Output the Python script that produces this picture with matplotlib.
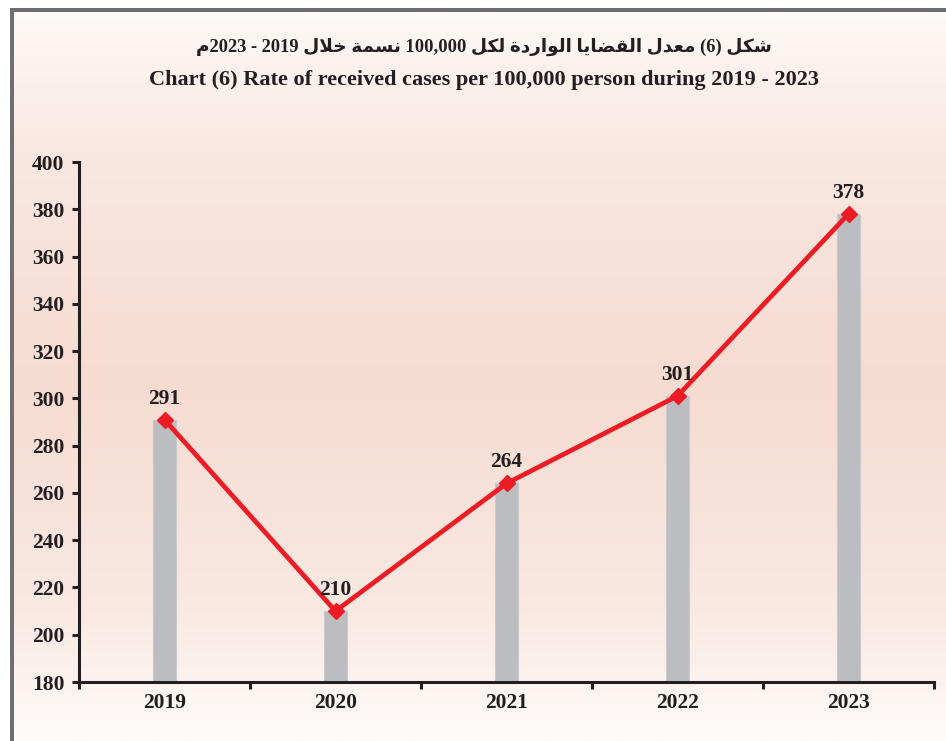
import re
import numpy as np
import matplotlib
matplotlib.use("Agg")
import matplotlib.pyplot as plt
from matplotlib.patches import Rectangle
from matplotlib.ticker import FixedLocator

# ---------------- data ----------------
years = ["2019", "2020", "2021", "2022", "2023"]
rates = [291, 210, 264, 301, 378]
y_ticks = [180, 200, 220, 240, 260, 280, 300, 320, 340, 360, 380, 400]
title_ar = "شكل (6) معدل القضايا الواردة لكل 100,000 نسمة خلال 2019 - 2023م"
title_en = "Chart (6) Rate of received cases per 100,000 person during 2019 - 2023"

# ---------------- simple Arabic shaping (presentation forms + RTL order) ----------------
FORMS = {
    '\u0627': (0xFE8D, 'R'), '\u062F': (0xFEA9, 'R'), '\u0631': (0xFEAD, 'R'),
    '\u0648': (0xFEED, 'R'), '\u0629': (0xFE93, 'R'),
    '\u0634': (0xFEB5, 'D'), '\u0643': (0xFED9, 'D'), '\u0644': (0xFEDD, 'D'),
    '\u0645': (0xFEE1, 'D'), '\u0639': (0xFEC9, 'D'), '\u0642': (0xFED5, 'D'),
    '\u0636': (0xFEBD, 'D'), '\u064A': (0xFEF1, 'D'), '\u0646': (0xFEE5, 'D'),
    '\u0633': (0xFEB1, 'D'), '\u062E': (0xFEA5, 'D'),
}


def shape_arabic(s):
    toks = []
    i = 0
    while i < len(s):
        if s[i] == '\u0644' and i + 1 < len(s) and s[i + 1] == '\u0627':
            toks.append('LA')
            i += 2
        else:
            toks.append(s[i])
            i += 1

    def is_ar(t):
        return t == 'LA' or t in FORMS

    def joins_next(t):
        return t in FORMS and FORMS[t][1] == 'D'

    out = []
    for k, t in enumerate(toks):
        prev = toks[k - 1] if k > 0 else None
        nxt = toks[k + 1] if k + 1 < len(toks) else None
        jp = prev is not None and joins_next(prev)
        jn = joins_next(t) and nxt is not None and is_ar(nxt)
        if t == 'LA':
            out.append(chr(0xFEFC if jp else 0xFEFB))
        elif t in FORMS:
            base, typ = FORMS[t]
            if typ == 'D':
                if jp and jn:
                    out.append(chr(base + 3))
                elif jp:
                    out.append(chr(base + 1))
                elif jn:
                    out.append(chr(base + 2))
                else:
                    out.append(chr(base))
            else:
                out.append(chr(base + 1 if jp else base))
        else:
            out.append(t)
    shaped = ''.join(out)
    runs = re.findall(r'[0-9][0-9,]*[0-9]|[0-9]|.', shaped)
    mirror = {'(': ')', ')': '('}
    return ''.join(mirror.get(r, r) for r in reversed(runs))


# ---------------- figure ----------------
W, H, DPI = 946, 741, 100
fig = plt.figure(figsize=(W / DPI, H / DPI), dpi=DPI)
fig.patch.set_facecolor('white')

# gradient background inside frame
bg = fig.add_axes([14 / W, 0, 1 - 14 / W, (H - 12) / H], zorder=0)
stops_y = np.array([0, 140, 370, 600, 729])  # px from top of gradient area
stops_c = np.array([
    [253, 249, 247],
    [249, 232, 225],
    [246, 219, 209],
    [249, 233, 226],
    [254, 252, 251],
]) / 255.0
yy = np.linspace(0, 729, 400)
grad = np.stack([np.interp(yy, stops_y, stops_c[:, j]) for j in range(3)], axis=-1)
grad = np.repeat(grad[:, None, :], 2, axis=1)
bg.imshow(grad, aspect='auto', extent=[0, 1, 0, 1], origin='upper')
bg.set_axis_off()

# frame (left and top)
frame_col = '#6d6e71'
fig.patches.append(Rectangle((10 / W, 0), 4 / W, (H - 8) / H, transform=fig.transFigure,
                             facecolor=frame_col, edgecolor='none', zorder=1))
fig.patches.append(Rectangle((10 / W, (H - 12) / H), 1 - 10 / W, 4 / H, transform=fig.transFigure,
                             facecolor=frame_col, edgecolor='none', zorder=1))

# titles
fig.text(484 / W, 1 - 47 / H, shape_arabic(title_ar), ha='center', va='center',
         fontsize=13.3, fontweight='bold', color='#231f20',
         family=['Liberation Serif', 'DejaVu Sans'])
fig.text(484 / W, 1 - 80 / H, title_en, ha='center', va='center',
         fontsize=16, fontweight='bold', color='#231f20', family='Liberation Serif')

# main axes
ax = fig.add_axes([79 / W, 1 - 682 / H, (934 - 79) / W, (682 - 162) / H], zorder=2)
ax.patch.set_alpha(0)
x = np.arange(len(years))
ax.bar(x, rates, width=0.14, color='#bcbdc0', edgecolor='#c9cacc', linewidth=0.8, zorder=2)
ax.plot(x, rates, color='#ed1c24', lw=3.4, marker='D', ms=8.5, mfc='#ed1c24',
        mec='#ed1c24', mew=1, zorder=3, solid_joinstyle='miter')
for xi, v in zip(x, rates):
    ax.annotate(str(v), (xi, v), xytext=(0, 11.5), textcoords='offset points',
                ha='center', va='baseline', fontsize=15.5, fontweight='bold',
                color='#231f20', family='Liberation Serif', zorder=4)

ax.set_xlim(-0.5, len(years) - 0.5)
ax.set_ylim(180, 400)
ax.set_yticks(y_ticks)
ax.set_xticks(x)
ax.set_xticklabels(years)
ax.xaxis.set_minor_locator(FixedLocator(np.arange(-0.5, len(years), 1.0)))

for s in ['top', 'right']:
    ax.spines[s].set_visible(False)
for s in ['left', 'bottom']:
    ax.spines[s].set_linewidth(2.2)
    ax.spines[s].set_color('#231f20')

ax.tick_params(axis='y', length=5, width=2.2, color='#231f20', pad=5.5,
               labelsize=15.5, labelcolor='#231f20')
ax.tick_params(axis='x', which='major', length=0, pad=8, labelsize=15.5, labelcolor='#231f20')
ax.tick_params(axis='x', which='minor', length=5, width=2.2, color='#231f20')
for lab in ax.get_xticklabels() + ax.get_yticklabels():
    lab.set_fontfamily('Liberation Serif')
    lab.set_fontweight('bold')

fig.savefig('out.png', dpi=DPI)
